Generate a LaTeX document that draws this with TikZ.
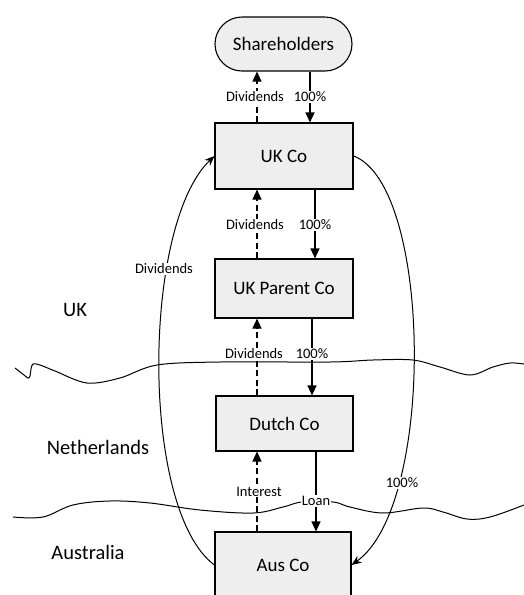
\documentclass[tikz,border=0pt]{standalone}
\usepackage{fontspec}
\setmainfont{Carlito}
\usetikzlibrary{arrows.meta}
\begin{document}
\begin{tikzpicture}[x=1pt,y=-1pt,
  box/.style={draw=black,line width=1.1pt,fill=gray!13,inner sep=0pt,minimum width=138pt,font=\fontsize{19}{22}\selectfont},
  lbl/.style={fill=white,inner sep=1pt,font=\fontsize{14.5}{16}\selectfont},
  region/.style={font=\fontsize{20.5}{24}\selectfont},
  own/.style={line width=1.1pt,-{Triangle[length=10pt,width=9pt]}},
  flow/.style={line width=1.1pt,dash pattern=on 6pt off 3.5pt,-{Triangle[length=10pt,width=9pt]}},
  border/.style={line width=1pt},
  loop/.style={line width=1pt,-{Stealth[length=10pt,width=8pt]}}]
\useasboundingbox (0,0) rectangle (524,595);
\begin{scope}
\clip (0,0) rectangle (524,595);
% borders
\draw[border] plot[smooth,tension=0.55] coordinates {(15,368) (24,375) (28,378) (30,376) (31,369) (33,364) (40,365) (55,371) (87,383) (120,378) (157,365) (220,362) (330,362) (373,360) (413,360) (440,367) (470,375) (493,367) (510,363) (524,364)};
\draw[border] plot[smooth,tension=0.6] coordinates {(13,517) (43,517) (73,505) (110,501) (150,503) (200,510) (253,513) (283,507) (302,502) (333,502) (350,507) (383,513) (423,508) (443,512) (467,519) (490,517) (524,505)};
% nodes
\node[box, rounded corners=27pt, minimum height=54pt, minimum width=137pt] (share) at (283.5,44) {Shareholders};
\node[box,minimum height=66pt] (ukco) at (284,156) {UK Co};
\node[box,minimum height=59pt] (ukparent) at (284,288.5) {UK Parent Co};
\node[box,minimum height=55pt,minimum width=137pt] (dutch) at (284.5,423.5) {Dutch Co};
\node[box,minimum height=66pt,minimum width=136pt] (aus) at (283,565) {Aus Co};
% region labels
\node[region] (rUK) at (75,310) {UK};
\node[region] (rNL) at (98,447) {Netherlands};
\node[region] (rAU) at (88,552) {Australia};
% x positions of vertical connectors
\coordinate (d1) at (257,0);
\coordinate (s1) at (310,0);
\coordinate (s2) at (315,0);
\coordinate (s3) at (312,0);
\coordinate (s4) at (316,0);
% vertical connectors
\draw[own] (share.south -| s1) -- (ukco.north -| s1) node[lbl,pos=0.5] (l1) {100\%};
\draw[flow] (ukco.north -| d1) -- (share.south -| d1) node[lbl,pos=0.5,xshift=-2pt] (l2) {Dividends};
\draw[own] (ukco.south -| s2) -- (ukparent.north -| s2) node[lbl,pos=0.51] (l3) {100\%};
\draw[flow] (ukparent.north -| d1) -- (ukco.south -| d1) node[lbl,pos=0.49,xshift=-2pt] (l4) {Dividends};
\draw[own] (ukparent.south -| s3) -- (dutch.north -| s3) node[lbl,pos=0.46] (l5) {100\%};
\draw[flow] (dutch.north -| d1) -- (ukparent.south -| d1) node[lbl,pos=0.54,xshift=-3pt] (l6) {Dividends};
\draw[own] (dutch.south -| s4) -- (aus.north -| s4) node[lbl,pos=0.62] (l7) {Loan};
\draw[flow] (aus.north -| d1) -- (dutch.south -| d1) node[lbl,pos=0.5,xshift=2pt] (l8) {Interest};
% curved connectors
\draw[loop] (aus.west) .. controls (140,510) and (142,225) .. (ukco.west);
\draw[loop] (ukco.east) .. controls (432,185) and (436,505) .. (aus.east);
\node[lbl] (l9) at (164,269) {Dividends};
\node[lbl] (l10) at (402,483) {100\%};
\end{scope}
\end{tikzpicture}
\end{document}
